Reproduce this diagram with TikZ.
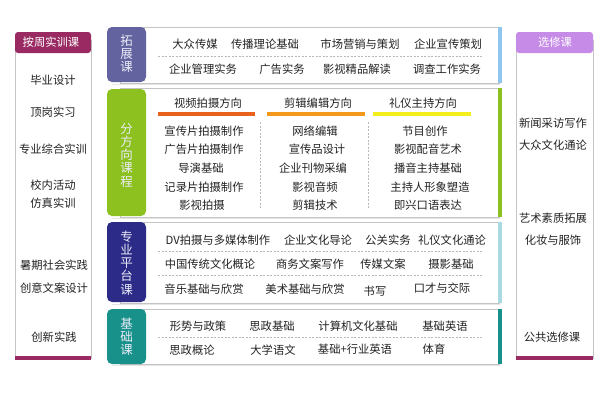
\documentclass[tikz,border=0pt]{standalone}
\usepackage{fontspec}
\newfontfamily\cjk{Noto Sans CJK SC}
\newcommand\myvlfont{\cjk\fontsize{12.5}{13.2}\selectfont\lineskiplimit=-30pt\relax\lineskip=0pt\relax}
\definecolor{maroon}{HTML}{9A2B62}
\definecolor{lav}{HTML}{C58BE6}
\definecolor{tzc}{HTML}{63639F}
\definecolor{fxc}{HTML}{8CC11F}
\definecolor{zyc}{HTML}{2C2C88}
\definecolor{jcc}{HTML}{17918A}
\definecolor{bar1}{HTML}{8EC6F0}
\definecolor{bar3}{HTML}{A9DAE2}
\definecolor{hb1}{HTML}{E8621C}
\definecolor{hb2}{HTML}{F39A1E}
\definecolor{hb3}{HTML}{F4EE1E}
\definecolor{txt}{HTML}{222222}
\definecolor{frame}{HTML}{C4C4C4}
\definecolor{vtxt}{HTML}{ECECF8}
\begin{document}
\begin{tikzpicture}[x=1pt,y=-1pt,
  item/.style={font=\cjk\fontsize{11.3}{12}\selectfont, text=txt, inner sep=0pt},
  side/.style={font=\cjk\fontsize{11.3}{12}\selectfont, text=txt, inner sep=0pt},
  head/.style={font=\cjk\fontsize{11.3}{12}\selectfont, text=white, inner sep=0pt},
  vlabel/.style={font=\myvlfont, text=vtxt, inner sep=0pt, align=center},
  cbox/.style={draw=frame, fill=white, line width=0.8pt},
  sep/.style={draw=gray!55, line width=0.6pt, dash pattern=on 2pt off 1.5pt},
  lbox/.style={rounded corners=5pt}]
\useasboundingbox (0,0) rectangle (600,400);
\fill[white] (0,0) rectangle (600,400);

% ---------- left panel ----------
\draw[draw=frame, line width=0.8pt] (15,40) rectangle (91,358);
\fill[maroon, rounded corners=3pt] (15,32) rectangle (91,53);
\fill[maroon] (15,355.5) rectangle (91,360);
\node[head] (lh) at (51,42.5) {按周实训课};
\node[side] (l1) at (53,80) {毕业设计};
\node[side] (l2) at (53,112) {顶岗实习};
\node[side] (l3) at (53,149) {专业综合实训};
\node[side] (l4) at (53,185) {校内活动};
\node[side] (l5) at (53,203) {仿真实训};
\node[side] (l6) at (54,265) {暑期社会实践};
\node[side] (l7) at (54,288) {创意文案设计};
\node[side] (l8) at (54,337) {创新实践};

% ---------- right panel ----------
\draw[draw=frame, line width=0.8pt] (516,40) rectangle (593,358);
\fill[lav, rounded corners=3pt] (516,32) rectangle (593,53);
\fill[maroon] (516,355.5) rectangle (593,360);
\node[head] (rh) at (555,42.5) {选修课};
\node[side] (r1) at (553,123) {新闻采访写作};
\node[side] (r2) at (553,145) {大众文化通论};
\node[side] (r3) at (553,218) {艺术素质拓展};
\node[side] (r4) at (553,240) {化妆与服饰};
\node[side] (r5) at (552,337) {公共选修课};

% ---------- row 1 : 拓展课 ----------
\draw[gray!20, line width=1pt] (112,84.5) -- (500,84.5);
\draw[cbox] (120,27) rectangle (499,83);
\fill[bar1] (498,27) rectangle (502,83);
\fill[tzc, lbox] (107,27) rectangle (146,82);
\node[vlabel] (t1) at (126.5,53.5) {拓\\展\\课};
\draw[sep] (158,56) -- (483,56);
\node[item] (a1) at (195,44) {大众传媒};
\node[item] (a2) at (265,44) {传播理论基础};
\node[item] (a3) at (360,44) {市场营销与策划};
\node[item] (a4) at (448,44) {企业宣传策划};
\node[item] (a5) at (203,69) {企业管理实务};
\node[item] (a6) at (282,69) {广告实务};
\node[item] (a7) at (357,69) {影视精品解读};
\node[item] (a8) at (447,69) {调查工作实务};

% ---------- row 2 : 分方向课程 ----------
\draw[gray!20, line width=1pt] (112,218.5) -- (500,218.5);
\draw[cbox] (120,88) rectangle (499,217);
\fill[fxc] (498,88) rectangle (502,217);
\fill[fxc, lbox] (107,89) rectangle (146,216);
\node[vlabel] (t2) at (126.5,155) {分\\方\\向\\课\\程};
\node[item] (h1) at (208,103) {视频拍摄方向};
\node[item] (h2) at (318,103) {剪辑编辑方向};
\node[item] (h3) at (423,103) {礼仪主持方向};
\fill[hb1] (158,111.5) rectangle (255,115.5);
\fill[hb2] (267,111.5) rectangle (365,115.5);
\fill[hb3] (373,111.5) rectangle (471,115.5);
\draw[sep] (260,122) -- (260,209);
\draw[sep] (368,122) -- (368,209);
\node[item] (b1) at (204,131) {宣传片拍摄制作};
\node[item] (b2) at (204,149.5) {广告片拍摄制作};
\node[item] (b3) at (201,168) {导演基础};
\node[item] (b4) at (204,187) {记录片拍摄制作};
\node[item] (b5) at (202,205.5) {影视拍摄};
\node[item] (c1) at (315,131) {网络编辑};
\node[item] (c2) at (317,149.5) {宣传品设计};
\node[item] (c3) at (313,168) {企业刊物采编};
\node[item] (c4) at (315,187) {影视音频};
\node[item] (c5) at (315,205.5) {剪辑技术};
\node[item] (d1) at (425,131) {节目创作};
\node[item] (d2) at (428,149.5) {影视配音艺术};
\node[item] (d3) at (428,168) {播音主持基础};
\node[item] (d4) at (430,187) {主持人形象塑造};
\node[item] (d5) at (428,205.5) {即兴口语表达};

% ---------- row 3 : 专业平台课 ----------
\draw[gray!20, line width=1pt] (112,304.5) -- (500,304.5);
\draw[cbox] (120,222) rectangle (499,303);
\fill[bar3] (498,222) rectangle (502,303);
\fill[zyc, lbox] (107,222) rectangle (146,302);
\node[vlabel] (t3) at (126.5,263) {专\\业\\平\\台\\课};
\draw[sep] (158,251.5) -- (483,251.5);
\draw[sep] (158,275.5) -- (483,275.5);
\node[item] (e1) at (218,240) {DV拍摄与多媒体制作};
\node[item] (e2) at (318,240) {企业文化导论};
\node[item] (e3) at (388,240) {公关实务};
\node[item] (e4) at (452,240) {礼仪文化通论};
\node[item] (e5) at (210,264.5) {中国传统文化概论};
\node[item] (e6) at (310,264.5) {商务文案写作};
\node[item] (e7) at (383,264.5) {传媒文案};
\node[item] (e8) at (451,264.5) {摄影基础};
\node[item] (e9) at (204,289) {音乐基础与欣赏};
\node[item] (e10) at (305,289) {美术基础与欣赏};
\node[item] (e11) at (375,291.5) {书写};
\node[item] (e12) at (442,288.5) {口才与交际};

% ---------- row 4 : 基础课 ----------
\draw[gray!20, line width=1pt] (112,365.5) -- (500,365.5);
\draw[cbox] (120,309) rectangle (499,364);
\fill[jcc] (498,309) rectangle (502,364);
\fill[jcc, lbox] (107,309) rectangle (146,364);
\node[vlabel] (t4) at (126.5,336.5) {基\\础\\课};
\draw[sep] (158,337.5) -- (483,337.5);
\node[item] (f1) at (198,326) {形势与政策};
\node[item] (f2) at (272,326) {思政基础};
\node[item] (f3) at (358,326) {计算机文化基础};
\node[item] (f4) at (445,326) {基础英语};
\node[item] (f5) at (192,350) {思政概论};
\node[item] (f6) at (273,350) {大学语文};
\node[item] (f7) at (355,349.5) {基础+行业英语};
\node[item] (f8) at (434,349.5) {体育};
\end{tikzpicture}
\end{document}
